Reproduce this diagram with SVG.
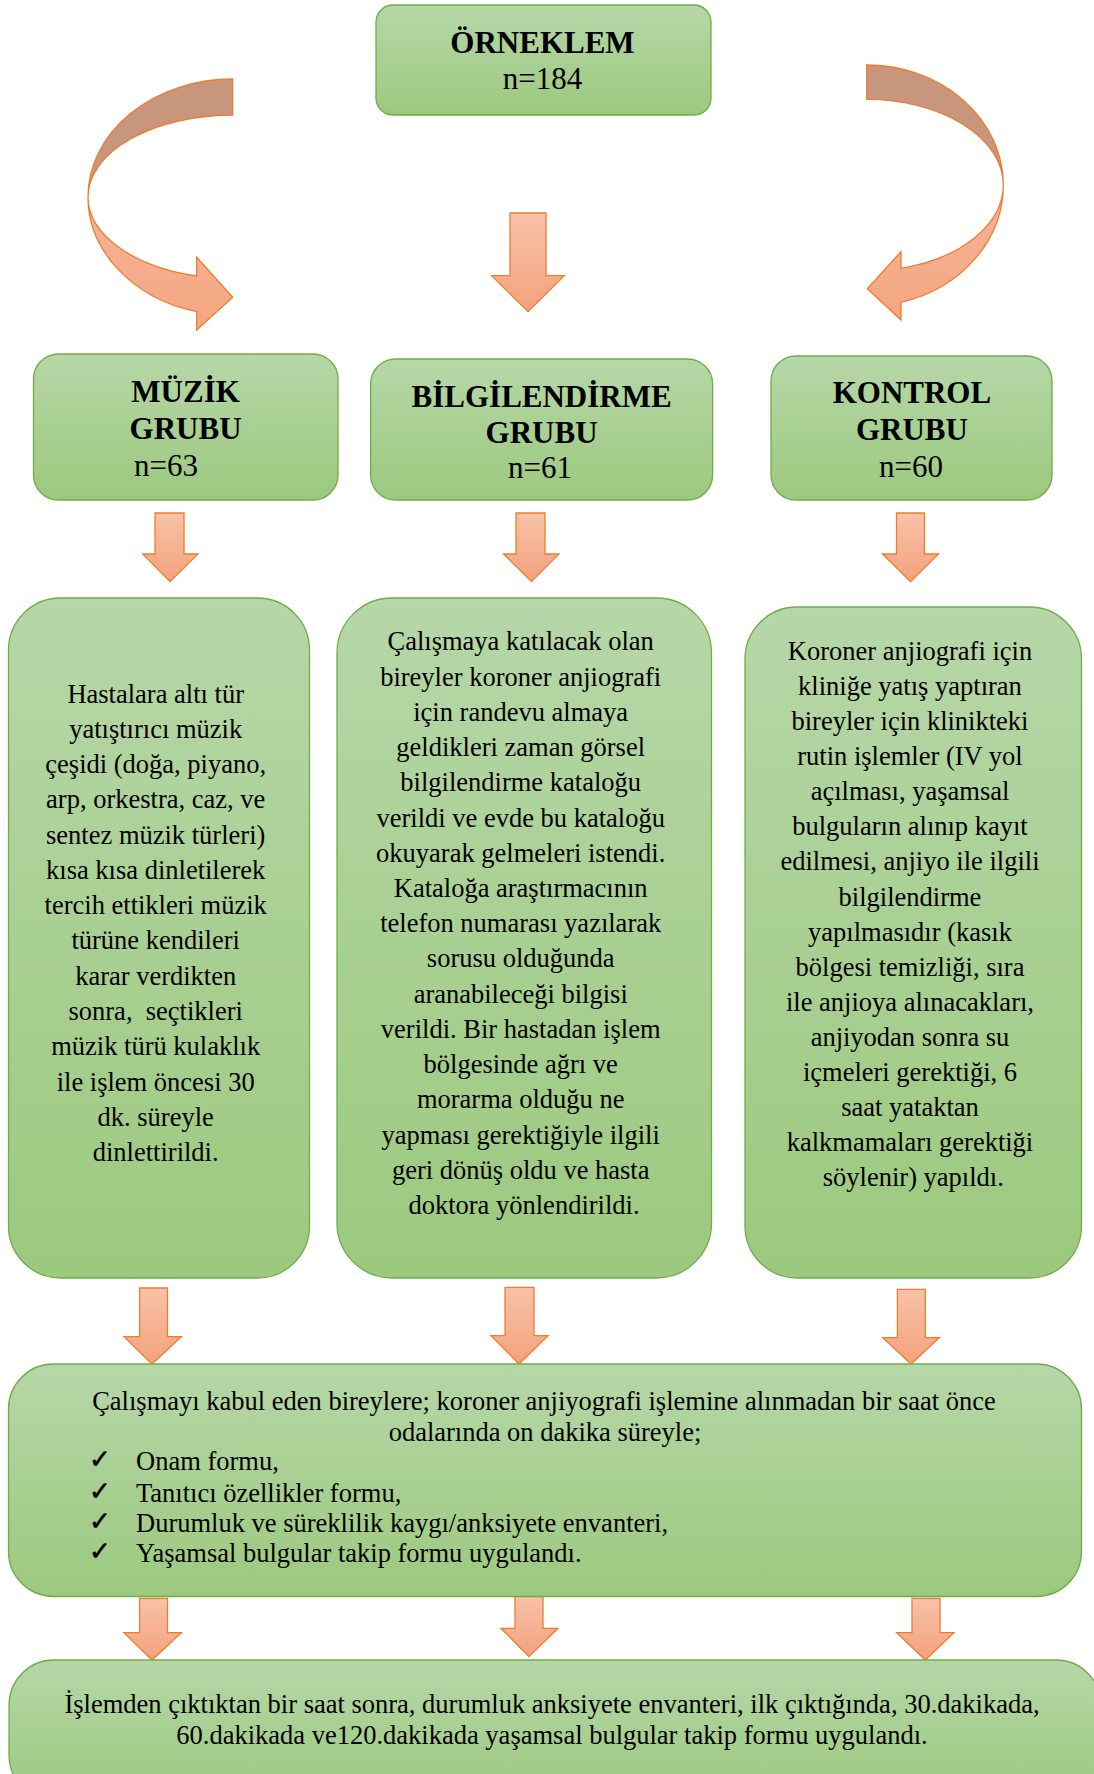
<svg xmlns="http://www.w3.org/2000/svg" width="1094" height="1774" viewBox="0 0 1094 1774">
<defs>
<linearGradient id="gBox" x1="0" y1="0" x2="0" y2="1">
<stop offset="0" stop-color="#b6d7a8"/>
<stop offset="1" stop-color="#9cc97e"/>
</linearGradient>
<linearGradient id="gArr" x1="0" y1="0" x2="0" y2="1">
<stop offset="0" stop-color="#f7c2a9"/>
<stop offset="1" stop-color="#f4a27c"/>
</linearGradient>
<linearGradient id="gCurve" x1="0" y1="0" x2="0" y2="1">
<stop offset="0" stop-color="#f6b598"/>
<stop offset="1" stop-color="#f4a680"/>
</linearGradient>
<style>
.box{fill:url(#gBox);stroke:#70ad47;stroke-width:1.3}
.arr{fill:url(#gArr);stroke:#ed7d31;stroke-width:1.3;stroke-linejoin:miter}
.back{fill:#c8957d;stroke:#ed7d31;stroke-width:1.3}
.front{fill:url(#gCurve);stroke:#ed7d31;stroke-width:1.3}
.h{font-family:"Liberation Serif","Times New Roman",serif;font-weight:bold;font-size:31px;fill:#000;text-anchor:middle}
.n{font-family:"Liberation Serif","Times New Roman",serif;font-size:31px;fill:#000;text-anchor:middle}
.t{font-family:"Liberation Serif","Times New Roman",serif;font-size:26.5px;fill:#000;text-anchor:middle}
.l{font-family:"Liberation Serif","Times New Roman",serif;font-size:26.5px;fill:#000}
.ck{font-family:"DejaVu Sans",sans-serif;font-size:26px;fill:#000;stroke:#000;stroke-width:0.6}
</style>
</defs>

<g id="connectors">
<path class="back" d="M232.7,79 A144.7,118 0 0 0 88,197 A144.7,82 0 0 1 232.7,115 Z"/>
<path class="front" d="M88,197 A144.7,118.4 0 0 0 196.7,311.7 L196.7,330 L232.7,297.3 L196.7,257.3 L196.7,276 A144.7,81.6 0 0 1 88,197 Z"/>
<path class="back" d="M866.7,65 A136.6,120 0 0 1 1003.3,185 A136.6,85.7 0 0 0 866.7,99.3 Z"/>
<path class="front" d="M1003.3,185 A136.6,121.2 0 0 1 901,302.3 L901,320 L867.3,288.7 L901,251.7 L901,268.3 A136.6,86 0 0 0 1003.3,185 Z"/>
<path class="arr" d="M510,213 H546 V275.7 H564.3 L528,311.7 L491.6,275.7 H510 Z"/>
<path class="arr" d="M155,513 H184 V554 H198 L170,581.7 L142.7,554 H155 Z"/>
<path class="arr" d="M516,513 H545 V554 H559 L531.5,581.7 L503.5,554 H516 Z"/>
<path class="arr" d="M896.5,513 H924.5 V554 H938.5 L910.5,581.7 L882.5,554 H896.5 Z"/>
<path class="arr" d="M139.6,1288 H167.5 V1336.7 H181.4 L152,1364 L124,1336.7 H139.6 Z"/>
<path class="arr" d="M505,1287.3 H534 V1335.7 H548 L519,1364 L491,1335.7 H505 Z"/>
<path class="arr" d="M897.4,1289.3 H925.3 V1337.7 H939.3 L911,1364 L882.8,1337.7 H897.4 Z"/>
<path class="arr" d="M139.6,1598.3 H167.5 V1632.7 H181.4 L152,1660 L124,1632.7 H139.6 Z"/>
<path class="arr" d="M515,1596 H543 V1628.3 H558 L529,1656.7 L501,1628.3 H515 Z"/>
<path class="arr" d="M912,1598.3 H940 V1632.7 H954 L925.3,1660 L896.7,1632.7 H912 Z"/>
</g>

<g id="orneklem">
<rect class="box" x="376" y="5" width="335" height="110" rx="17"/>
<text class="h" x="542.5" y="52.7">ÖRNEKLEM</text>
<text class="n" x="542.5" y="89.3">n=184</text>
</g>

<g id="muzik">
<rect class="box" x="33.5" y="354" width="304.5" height="146" rx="25"/>
<text class="h" x="185.6" y="401.7">MÜZİK</text>
<text class="h" x="185.6" y="439">GRUBU</text>
<text class="n" x="166" y="476">n=63</text>
</g>

<g id="bilgilendirme">
<rect class="box" x="370.6" y="359" width="342" height="141" rx="25"/>
<text class="h" x="541.6" y="406.7">BİLGİLENDİRME</text>
<text class="h" x="541.6" y="443">GRUBU</text>
<text class="n" x="540" y="477.7">n=61</text>
</g>

<g id="kontrol">
<rect class="box" x="771" y="356" width="281" height="144" rx="25"/>
<text class="h" x="911.9" y="403">KONTROL</text>
<text class="h" x="911.9" y="440">GRUBU</text>
<text class="n" x="911" y="476.7">n=60</text>
</g>

<g id="muzik-detay">
<rect class="box" x="8.5" y="598" width="301" height="680" rx="52"/>
<text class="t" xml:space="preserve">
<tspan x="159" y="702.5">Hastalara altı tür</tspan>
<tspan x="159" y="737.8">yatıştırıcı müzik</tspan>
<tspan x="159" y="773.0">çeşidi (doğa, piyano,</tspan>
<tspan x="159" y="808.3">arp, orkestra, caz, ve</tspan>
<tspan x="159" y="843.6">sentez müzik türleri)</tspan>
<tspan x="159" y="878.8">kısa kısa dinletilerek</tspan>
<tspan x="159" y="914.1">tercih ettikleri müzik</tspan>
<tspan x="159" y="949.4">türüne kendileri</tspan>
<tspan x="159" y="984.7">karar verdikten</tspan>
<tspan x="159" y="1019.9">sonra,  seçtikleri</tspan>
<tspan x="159" y="1055.2">müzik türü kulaklık</tspan>
<tspan x="159" y="1090.5">ile işlem öncesi 30</tspan>
<tspan x="159" y="1125.7">dk. süreyle</tspan>
<tspan x="159" y="1161.0">dinlettirildi.</tspan>
</text>
</g>

<g id="bilgilendirme-detay">
<rect class="box" x="337" y="598" width="374.5" height="680" rx="55"/>
<text class="t">
<tspan x="524" y="650.3">Çalışmaya katılacak olan</tspan>
<tspan x="524" y="685.5">bireyler koroner anjiografi</tspan>
<tspan x="524" y="720.8">için randevu almaya</tspan>
<tspan x="524" y="756.0">geldikleri zaman görsel</tspan>
<tspan x="524" y="791.2">bilgilendirme kataloğu</tspan>
<tspan x="524" y="826.5">verildi ve evde bu kataloğu</tspan>
<tspan x="524" y="861.7">okuyarak gelmeleri istendi.</tspan>
<tspan x="524" y="896.9">Kataloğa araştırmacının</tspan>
<tspan x="524" y="932.1">telefon numarası yazılarak</tspan>
<tspan x="524" y="967.4">sorusu olduğunda</tspan>
<tspan x="524" y="1002.6">aranabileceği bilgisi</tspan>
<tspan x="524" y="1037.8">verildi. Bir hastadan işlem</tspan>
<tspan x="524" y="1073.1">bölgesinde ağrı ve</tspan>
<tspan x="524" y="1108.3">morarma olduğu ne</tspan>
<tspan x="524" y="1143.5">yapması gerektiğiyle ilgili</tspan>
<tspan x="524" y="1178.8">geri dönüş oldu ve hasta</tspan>
<tspan x="524" y="1214.0">doktora yönlendirildi.</tspan>
</text>
</g>

<g id="kontrol-detay">
<rect class="box" x="745" y="607" width="336.5" height="671" rx="52"/>
<text class="t">
<tspan x="913.3" y="660.0">Koroner anjiografi için</tspan>
<tspan x="913.3" y="695.1">kliniğe yatış yaptıran</tspan>
<tspan x="913.3" y="730.1">bireyler için klinikteki</tspan>
<tspan x="913.3" y="765.2">rutin işlemler (IV yol</tspan>
<tspan x="913.3" y="800.3">açılması, yaşamsal</tspan>
<tspan x="913.3" y="835.4">bulguların alınıp kayıt</tspan>
<tspan x="913.3" y="870.4">edilmesi, anjiyo ile ilgili</tspan>
<tspan x="913.3" y="905.5">bilgilendirme</tspan>
<tspan x="913.3" y="940.6">yapılmasıdır (kasık</tspan>
<tspan x="913.3" y="975.6">bölgesi temizliği, sıra</tspan>
<tspan x="913.3" y="1010.7">ile anjioya alınacakları,</tspan>
<tspan x="913.3" y="1045.8">anjiyodan sonra su</tspan>
<tspan x="913.3" y="1080.8">içmeleri gerektiği, 6</tspan>
<tspan x="913.3" y="1115.9">saat yataktan</tspan>
<tspan x="913.3" y="1151.0">kalkmamaları gerektiği</tspan>
<tspan x="913.3" y="1186.0">söylenir) yapıldı.</tspan>
</text>
</g>

<g id="uygulama">
<rect class="box" x="8.5" y="1364" width="1073" height="232.5" rx="45"/>
<text class="t" x="544" y="1410">Çalışmayı kabul eden bireylere; koroner anjiyografi işlemine alınmadan bir saat önce</text>
<text class="t" x="545" y="1440.7">odalarında on dakika süreyle;</text>
<text class="ck" x="89" y="1468">✓</text>
<text class="l" x="136" y="1470">Onam formu,</text>
<text class="ck" x="89" y="1499.7">✓</text>
<text class="l" x="136" y="1501.7">Tanıtıcı özellikler formu,</text>
<text class="ck" x="89" y="1529.7">✓</text>
<text class="l" x="136" y="1531.7">Durumluk ve süreklilik kaygı/anksiyete envanteri,</text>
<text class="ck" x="89" y="1559.7">✓</text>
<text class="l" x="136" y="1561.7">Yaşamsal bulgular takip formu uygulandı.</text>
</g>

<g id="islem-sonrasi">
<rect class="box" x="9" y="1660" width="1092" height="140" rx="45"/>
<text class="t" x="552" y="1713.3">İşlemden çıktıktan bir saat sonra, durumluk anksiyete envanteri, ilk çıktığında, 30.dakikada,</text>
<text class="t" x="552" y="1743.8">60.dakikada ve120.dakikada yaşamsal bulgular takip formu uygulandı.</text>
</g>
</svg>
